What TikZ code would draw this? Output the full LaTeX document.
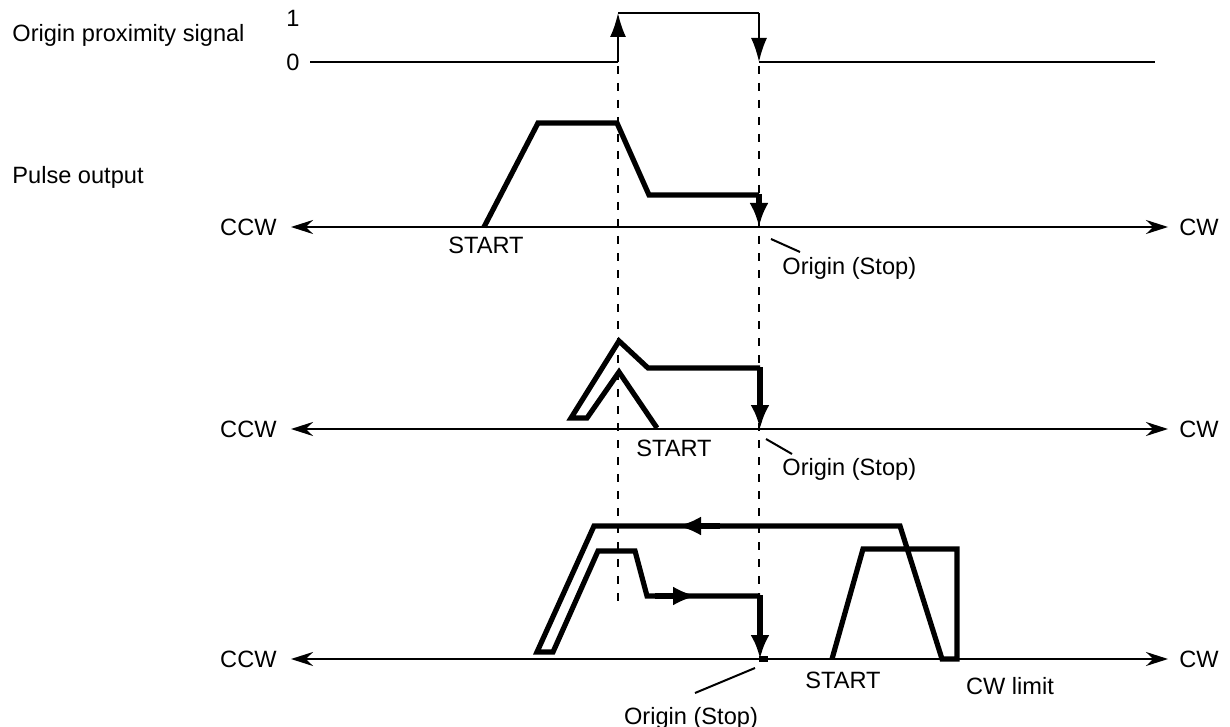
\documentclass[tikz,border=0pt]{standalone}
\usepackage{fontspec}
\setmainfont{Liberation Sans}
\usetikzlibrary{arrows.meta}
\begin{document}
\begin{tikzpicture}[x=0.5pt, y=-0.5pt,
    every node/.style={font=\fontsize{11.8}{14}\selectfont, inner sep=0pt},
    sig/.style={line width=1pt},
    sigtip/.style={-{Latex[length=12pt,width=8pt]}},
    axisline/.style={line width=1pt, {Stealth[length=11pt,width=7pt]}-{Stealth[length=11pt,width=7pt]}},
    prof/.style={line width=2.6pt},
    proftip/.style={-{Latex[length=12pt,width=9.5pt]}},
    guide/.style={line width=1.3pt, dash pattern=on 4pt off 4.5pt},
    leader/.style={line width=1pt}]
    \useasboundingbox (0,0) rectangle (1230,727);
    % guide lines
    \draw[guide] (618,66) -- (618,602);
    \draw[guide] (759,66) -- (759,659);
    % origin proximity signal
    \node[anchor=west] (prox) at (12,35) {Origin proximity signal};
    \node (one) at (293,18) {1};
    \node (zero) at (293,62) {0};
    \draw[sig] (310,62) -- (618,62);
    \draw[sig, sigtip] (618,62) -- (618,13);
    \draw[sig] (618,13) -- (759,13);
    \draw[sig, sigtip] (759,13) -- (759,62);
    \draw[sig] (759,62) -- (1155,62);
    \node[anchor=west] (pulse) at (12,177) {Pulse output};
    % axes
    \foreach \ya/\nm in {227/a, 429/b, 659/c}{
        \draw[axisline] (291,\ya) -- (1168,\ya);
        \node[anchor=east] (ccw\nm) at (277,\ya) {CCW};
        \node[anchor=west] (cw\nm) at (1179,\ya) {CW};
    }
    % case 1
    \draw[prof] (484,227) -- (538,123) -- (617,123) -- (649,195) -- (759,195);
    \draw[prof, proftip] (759,194) -- (759,227);
    \node (starta) at (486,245) {START};
    \draw[leader] (771,239) -- (800,252);
    \node[anchor=west] (orga) at (782,268) {Origin (Stop)};
    % case 2
    \draw[prof] (657,428) -- (619,372) -- (587,418) -- (571,418) -- (619,341) -- (648,368) -- (760,368);
    \draw[prof, proftip] (760,367) -- (760,429);
    \node (startb) at (674,448) {START};
    \draw[leader] (766,439) -- (792,454);
    \node[anchor=west] (orgb) at (782,469) {Origin (Stop)};
    % case 3
    \draw[prof] (832,659) -- (863,549) -- (957,549) -- (957,659) -- (942,659) -- (900,526)
        -- (594,526) -- (537,652) -- (553,652) -- (598,551) -- (635,551) -- (647,596) -- (760,596);
    \draw[prof, proftip] (720,526) -- (677,526);
    \draw[prof, proftip] (655,596) -- (697,596);
    \draw[prof, proftip] (760,595) -- (760,659);
    \draw[prof] (759,659) -- (768,659);
    \node (startc) at (843,680) {START};
    \node (cwlim) at (1010,686) {CW limit};
    \draw[leader] (755,668) -- (695,693);
    \node (orgc) at (691,718) {Origin (Stop)};
\end{tikzpicture}
\end{document}
